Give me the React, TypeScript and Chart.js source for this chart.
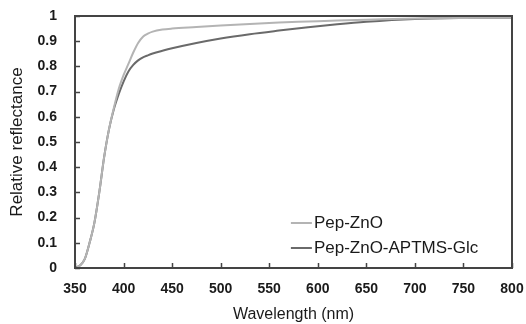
import React, { useEffect, useRef } from "react";
import { Chart, registerables } from "chart.js";

Chart.register(...registerables);

const wavelengths = [350, 355, 360, 365, 370, 375, 380, 385, 390, 395, 400, 405, 410, 415, 420, 425, 430, 440, 450, 475, 500, 530, 560, 590, 620, 650, 700, 750, 800];
const pepZnO = [0, 0.01, 0.035, 0.1, 0.18, 0.3, 0.44, 0.55, 0.635, 0.71, 0.765, 0.81, 0.855, 0.893, 0.918, 0.93, 0.938, 0.946, 0.95, 0.956, 0.962, 0.968, 0.974, 0.978, 0.982, 0.985, 0.99, 0.992, 0.993];
const pepZnOAptmsGlc = [0, 0.01, 0.035, 0.1, 0.18, 0.3, 0.44, 0.55, 0.63, 0.69, 0.74, 0.78, 0.806, 0.824, 0.836, 0.844, 0.851, 0.862, 0.872, 0.893, 0.911, 0.928, 0.942, 0.955, 0.967, 0.977, 0.988, 0.992, 0.993];
const seriesNames = ["Pep-ZnO", "Pep-ZnO-APTMS-Glc"];
const seriesColors = ["#b4b4b4", "#6a6a6a"];
const xTicks = [350, 400, 450, 500, 550, 600, 650, 700, 750, 800];

const FONT = "'Liberation Sans', Arial, sans-serif";

const framePlugin = {
  id: "frame",
  afterDatasetsDraw(chart: any) {
    const { ctx, chartArea: a, scales } = chart;
    ctx.save();
    ctx.strokeStyle = "#444";
    ctx.lineWidth = 1.5;
    ctx.beginPath();
    scales.x.ticks.forEach((t: any) => {
      const px = Math.round(scales.x.getPixelForValue(t.value)) + 0.5;
      ctx.moveTo(px, a.bottom);
      ctx.lineTo(px, a.bottom - 5);
    });
    scales.y.ticks.forEach((t: any) => {
      const py = Math.round(scales.y.getPixelForValue(t.value)) + 0.5;
      ctx.moveTo(a.left, py);
      ctx.lineTo(a.left + 5, py);
    });
    ctx.stroke();
    ctx.lineWidth = 2;
    ctx.strokeRect(a.left, a.top, a.right - a.left, a.bottom - a.top);
    ctx.font = `17px ${FONT}`;
    ctx.textBaseline = "middle";
    ctx.textAlign = "left";
    const lx = scales.x.getPixelForValue(596);
    seriesNames.forEach((name, i) => {
      const ly = a.top + 207 + i * 25;
      ctx.strokeStyle = seriesColors[i];
      ctx.lineWidth = 2;
      ctx.beginPath();
      ctx.moveTo(lx - 23, ly);
      ctx.lineTo(lx - 2, ly);
      ctx.stroke();
      ctx.fillStyle = "#1a1a1a";
      ctx.fillText(name, lx, ly);
    });
    ctx.restore();
  },
};

export default function App() {
  const ref = useRef<HTMLCanvasElement>(null);
  useEffect(() => {
    if (!ref.current) return;
    const mk = (vals: number[]) => wavelengths.map((w, i) => ({ x: w, y: vals[i] }));
    const chart = new Chart(ref.current, {
      type: "line",
      data: {
        datasets: [
          { label: seriesNames[0], data: mk(pepZnO), borderColor: seriesColors[0], borderWidth: 2, pointRadius: 0, cubicInterpolationMode: "monotone" },
          { label: seriesNames[1], data: mk(pepZnOAptmsGlc), borderColor: seriesColors[1], borderWidth: 2, pointRadius: 0, cubicInterpolationMode: "monotone" },
        ],
      },
      options: {
        animation: false,
        responsive: false,
        maintainAspectRatio: false,
        layout: { padding: { left: 0, right: 14, top: 16, bottom: 0 } },
        plugins: { legend: { display: false }, tooltip: { enabled: false } },
        scales: {
          x: {
            type: "linear",
            min: 350,
            max: 800,
            afterBuildTicks: (s: any) => { s.ticks = xTicks.map((v) => ({ value: v })); },
            afterFit: (s: any) => { s.height = 56; s.paddingLeft = 0; s.paddingRight = 0; },
            grid: { display: false, drawTicks: false },
            border: { display: false },
            ticks: { padding: 13, color: "#1a1a1a", font: { family: FONT, size: 14, weight: "bold" }, maxRotation: 0 },
            title: { display: true, text: "Wavelength (nm)", color: "#1a1a1a", font: { family: FONT, size: 16 }, padding: { top: 2, bottom: 0 } },
          },
          y: {
            min: 0,
            max: 1,
            afterFit: (s: any) => { s.width = 75; s.paddingTop = 0; s.paddingBottom = 0; },
            grid: { display: false, drawTicks: false },
            border: { display: false },
            ticks: {
              stepSize: 0.1,
              padding: 18,
              color: "#1a1a1a",
              font: { family: FONT, size: 14, weight: "bold" },
              callback: (v: any) => String(Number(Number(v).toFixed(1))),
            },
            title: { display: true, text: "Relative reflectance", color: "#1a1a1a", font: { family: FONT, size: 17 }, padding: { top: 7, bottom: 4 } },
          },
        },
      },
      plugins: [framePlugin],
    } as any);
    return () => chart.destroy();
  }, []);
  return (
    <div style={{ position: "absolute", left: 0, top: 0, width: 526, height: 324, background: "#fff" }}>
      <canvas ref={ref} width={526} height={324} style={{ width: 526, height: 324 }} />
    </div>
  );
}
